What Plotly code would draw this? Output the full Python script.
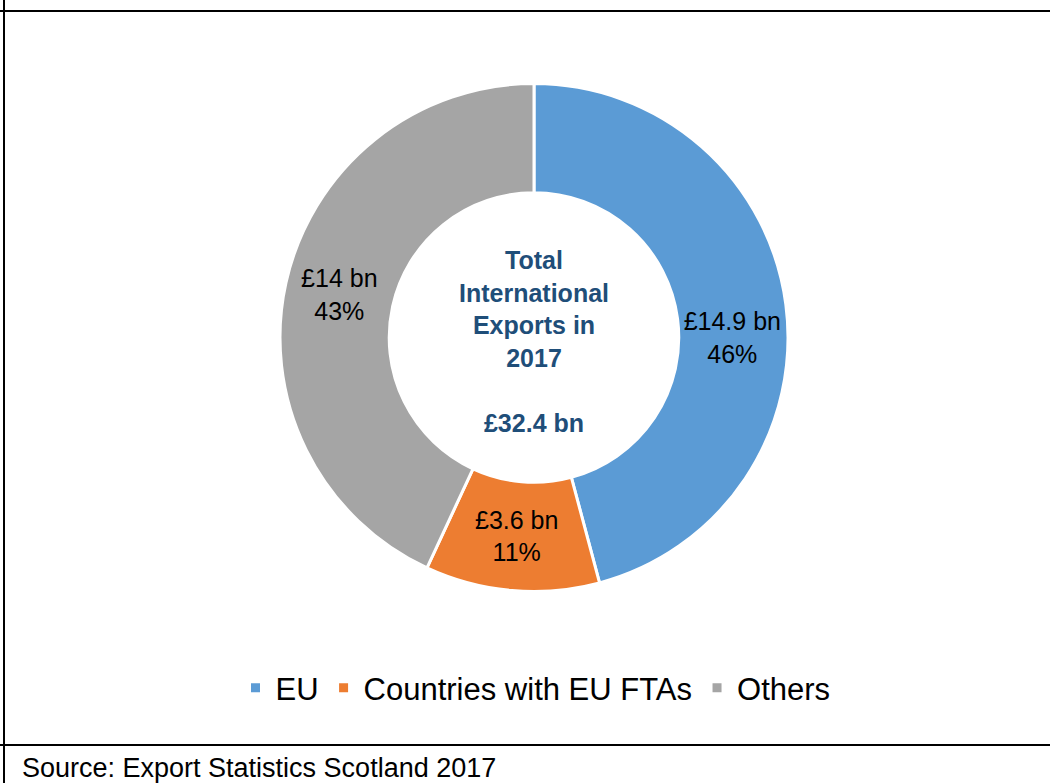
import plotly.graph_objects as go

categories = ["EU", "Countries with EU FTAs", "Others"]
values_bn = [14.9, 3.6, 14.0]
value_labels = ["£14.9 bn", "£3.6 bn", "£14 bn"]
pct_labels = ["46%", "11%", "43%"]
colors = ["#5B9BD5", "#ED7D31", "#A5A5A5"]
center_title = "Total<br>International<br>Exports in<br>2017<br><br>£32.4 bn"
source_text = "Source: Export Statistics Scotland 2017"

W, H = 1050, 783
FONT = "Liberation Sans, Arial"

fig = go.Figure()
fig.add_trace(go.Pie(
    labels=categories,
    values=values_bn,
    customdata=list(zip(value_labels, pct_labels)),
    texttemplate="%{customdata[0]}<br>%{customdata[1]}",
    textposition="inside",
    insidetextorientation="horizontal",
    textfont=dict(family=FONT, size=25, color="black"),
    hole=0.57,
    sort=False,
    direction="clockwise",
    rotation=0,
    marker=dict(colors=colors, line=dict(color="white", width=3)),
    domain=dict(x=[280 / W, 788 / W], y=[(H - 592) / H, (H - 83) / H]),
    hoverinfo="label+value+percent",
))

fig.add_annotation(
    x=534 / W, y=(H - 341) / H, xref="paper", yref="paper",
    text="<b>" + center_title + "</b>", showarrow=False,
    font=dict(family=FONT, size=25, color="#1F4E79"),
    align="center", xanchor="center", yanchor="middle",
)

fig.add_annotation(
    x=20 / W, y=(H - 768) / H, xref="paper", yref="paper",
    text=source_text, showarrow=False,
    font=dict(family=FONT, size=27, color="black"),
    xanchor="left", yanchor="middle",
)

# frame lines
line_style = dict(color="black", width=2)
fig.add_shape(type="line", xref="paper", yref="paper", x0=0, x1=1.01,
              y0=(H - 11) / H, y1=(H - 11) / H, line=line_style)
fig.add_shape(type="line", xref="paper", yref="paper", x0=0, x1=1.01,
              y0=(H - 745) / H, y1=(H - 745) / H, line=line_style)
fig.add_shape(type="line", xref="paper", yref="paper", x0=4 / W, x1=4 / W,
              y0=0, y1=1.01, line=line_style)

fig.update_layout(
    width=W, height=H,
    margin=dict(l=0, r=0, t=0, b=0),
    paper_bgcolor="white", plot_bgcolor="white",
    showlegend=True,
    legend=dict(orientation="h", x=0.51, xanchor="center",
                y=(H - 688) / H, yanchor="middle",
                font=dict(family=FONT, size=31, color="black"),
                itemwidth=30, bgcolor="rgba(0,0,0,0)"),
)

fig.write_html(
    "out.html",
    config={"displayModeBar": False},
    post_script="document.body.style.margin='0';document.body.style.overflow='hidden';",
)
